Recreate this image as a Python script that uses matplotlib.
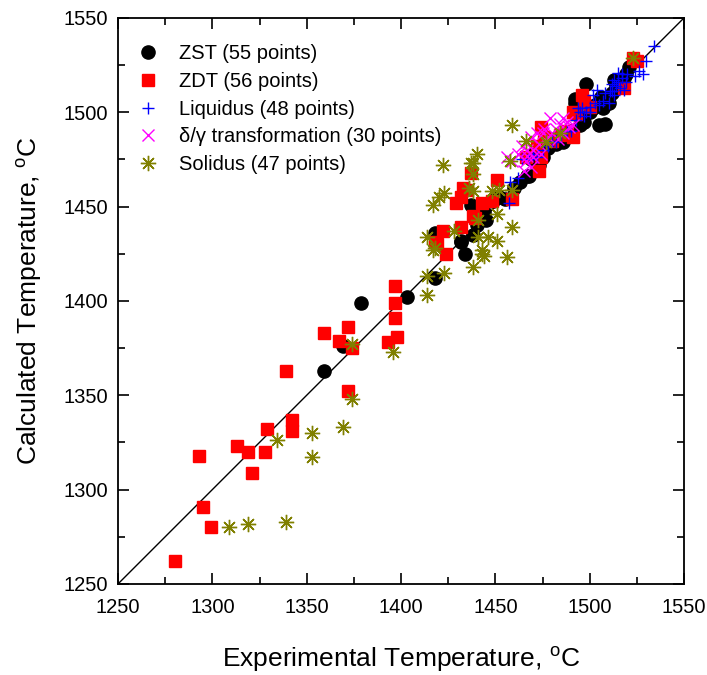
import matplotlib
matplotlib.use("Agg")
import matplotlib.pyplot as plt

plt.rcParams["font.family"] = ["Liberation Sans", "DejaVu Sans"]
plt.rcParams["mathtext.fontset"] = "custom"
plt.rcParams["mathtext.rm"] = "Liberation Sans"

# -----------------------------
# Data (experimental T, calculated T) in degC
# -----------------------------
zst_exp = [1359, 1369, 1379, 1403, 1418, 1418, 1432, 1434, 1432, 1437,
           1438, 1440, 1449, 1452, 1450, 1455, 1460, 1467, 1468, 1469,
           1470, 1475, 1478, 1480, 1482, 1485, 1488, 1490, 1492, 1492,
           1495, 1497, 1498, 1500, 1500, 1502, 1505, 1507, 1508, 1510,
           1512, 1514, 1516, 1518, 1521, 1445, 1444, 1463, 1473, 1486,
           1495, 1503, 1506, 1513, 1519]
zst_calc = [1363, 1376, 1399, 1402, 1412, 1436, 1431, 1425, 1432, 1451,
            1435, 1440, 1453, 1455, 1455, 1454, 1460, 1466, 1466, 1475,
            1478, 1476, 1481, 1484, 1483, 1486, 1489, 1490, 1505, 1507,
            1497, 1495, 1515, 1500, 1503, 1502, 1493, 1502, 1494, 1505,
            1510, 1514, 1516, 1518, 1524, 1443, 1447, 1463, 1472, 1484,
            1493, 1504, 1508, 1517, 1520]

zdt_exp = [1280, 1293, 1295, 1299, 1313, 1319, 1321, 1328, 1329, 1339,
           1342, 1342, 1359, 1367, 1372, 1374, 1372, 1393, 1397, 1397,
           1397, 1398, 1418, 1419, 1422, 1424, 1429, 1432, 1432, 1433,
           1435, 1437, 1438, 1439, 1443, 1448, 1451, 1459, 1466, 1472,
           1473, 1474, 1474, 1476, 1480, 1484, 1488, 1491, 1491, 1493,
           1496, 1497, 1500, 1518, 1523, 1525]
zdt_calc = [1262, 1318, 1291, 1280, 1323, 1320, 1309, 1320, 1332, 1363,
            1337, 1331, 1383, 1379, 1386, 1375, 1352, 1378, 1408, 1399,
            1391, 1381, 1431, 1430, 1437, 1425, 1452, 1455, 1439, 1460,
            1459, 1468, 1445, 1444, 1452, 1453, 1464, 1454, 1476, 1482,
            1469, 1476, 1492, 1487, 1485, 1488, 1490, 1500, 1487, 1499,
            1509, 1506, 1503, 1513, 1529, 1527]

liq_exp = [1457, 1458, 1464, 1468, 1470, 1475, 1478, 1482, 1485, 1488,
           1490, 1493, 1494, 1495, 1496, 1497, 1498, 1500, 1500, 1502,
           1503, 1504, 1505, 1507, 1508, 1510, 1511, 1512, 1512, 1513,
           1513, 1514, 1515, 1515, 1516, 1517, 1518, 1520, 1524, 1526,
           1528, 1530, 1534, 1517, 1519, 1462, 1472, 1480]
liq_calc = [1452, 1463, 1475, 1475, 1478, 1480, 1482, 1484, 1488, 1490,
            1490, 1496, 1502, 1500, 1502, 1498, 1500, 1503, 1500, 1509,
            1505, 1512, 1504, 1506, 1510, 1505, 1511, 1515, 1511, 1517,
            1509, 1514, 1521, 1516, 1513, 1518, 1512, 1520, 1519, 1522,
            1520, 1527, 1535, 1520, 1516, 1465, 1476, 1485]

dg_exp = [1456, 1459, 1465, 1466, 1467, 1467, 1469, 1469, 1470, 1472,
          1475, 1477, 1479, 1480, 1484, 1486, 1486, 1489, 1491, 1464,
          1467, 1473, 1476, 1482, 1470, 1478, 1483, 1488, 1462, 1474]
dg_calc = [1476, 1474, 1469, 1474, 1477, 1480, 1471, 1487, 1480, 1489,
           1489, 1485, 1497, 1489, 1494, 1497, 1489, 1492, 1493, 1482,
           1484, 1483, 1491, 1491, 1476, 1487, 1486, 1495, 1478, 1478]

sol_exp = [1309, 1319, 1339, 1334, 1353, 1353, 1369, 1374, 1374, 1396,
           1414, 1414, 1423, 1417, 1438, 1443, 1444, 1422, 1438, 1440,
           1438, 1423, 1420, 1417, 1436, 1438, 1448, 1452, 1459, 1451,
           1441, 1428, 1414, 1418, 1441, 1446, 1451, 1443, 1456, 1459,
           1459, 1466, 1477, 1484, 1458, 1523, 1437]
sol_calc = [1280, 1282, 1283, 1326, 1330, 1317, 1333, 1348, 1377, 1373,
            1413, 1403, 1415, 1427, 1418, 1427, 1424, 1472, 1473, 1478,
            1467, 1457, 1455, 1451, 1460, 1458, 1458, 1459, 1459, 1446,
            1443, 1437, 1434, 1428, 1434, 1434, 1432, 1425, 1423, 1439,
            1493, 1485, 1484, 1489, 1474, 1529, 1473]

T_MIN, T_MAX = 1250, 1550
TICKS = [1250, 1300, 1350, 1400, 1450, 1500, 1550]

fig = plt.figure(figsize=(7.07, 6.75), dpi=100)
ax = fig.add_axes([0.167, 0.135, 0.8005, 0.8385])

# 1:1 line
ax.plot([T_MIN, T_MAX], [T_MIN, T_MAX], color="black", lw=1.0, zorder=1)

ax.plot(zst_exp, zst_calc, "o", color="black", ms=9.5, ls="none",
        label="ZST (55 points)", zorder=2)
ax.plot(zdt_exp, zdt_calc, "s", color="#ff0000", ms=8.5, ls="none",
        label="ZDT (56 points)", zorder=3)
ax.plot(liq_exp, liq_calc, "+", color="#0000ff", ms=9, mew=1.0, ls="none",
        label="Liquidus (48 points)", zorder=4)
ax.plot(dg_exp, dg_calc, "x", color="#ff00ff", ms=8, mew=1.0, ls="none",
        label="δ/γ transformation (30 points)", zorder=5)
ax.plot(sol_exp, sol_calc, marker=(8, 2, 0), color="#808000", ms=11, mew=1.0,
        ls="none", label="Solidus (47 points)", zorder=6)

ax.set_xlim(T_MIN, T_MAX)
ax.set_ylim(T_MIN, T_MAX)
ax.set_xticks(TICKS)
ax.set_yticks(TICKS)
ax.set_xticks(range(1275, 1550, 50), minor=True)
ax.set_yticks(range(1275, 1550, 50), minor=True)
ax.tick_params(which="both", direction="in", top=True, right=True,
               labelsize=14.5, width=1.2)
ax.tick_params(which="major", length=8)
ax.tick_params(axis="x", which="major", pad=10)
ax.tick_params(axis="y", which="major", pad=7)
ax.tick_params(which="minor", length=5)
for s in ax.spines.values():
    s.set_linewidth(1.3)

ax.set_xlabel(r"Experimental Temperature, $^{\rm o}$C", fontsize=19, labelpad=20)
ax.set_ylabel(r"Calculated Temperature, $^{\rm o}$C", fontsize=19, labelpad=14)

ax.legend(loc="upper left", bbox_to_anchor=(0.0, 0.978), frameon=False,
          fontsize=14.5, handletextpad=0.75, labelspacing=0.43,
          handlelength=1.6, borderaxespad=0.3)

fig.savefig("out.png", dpi=100)
